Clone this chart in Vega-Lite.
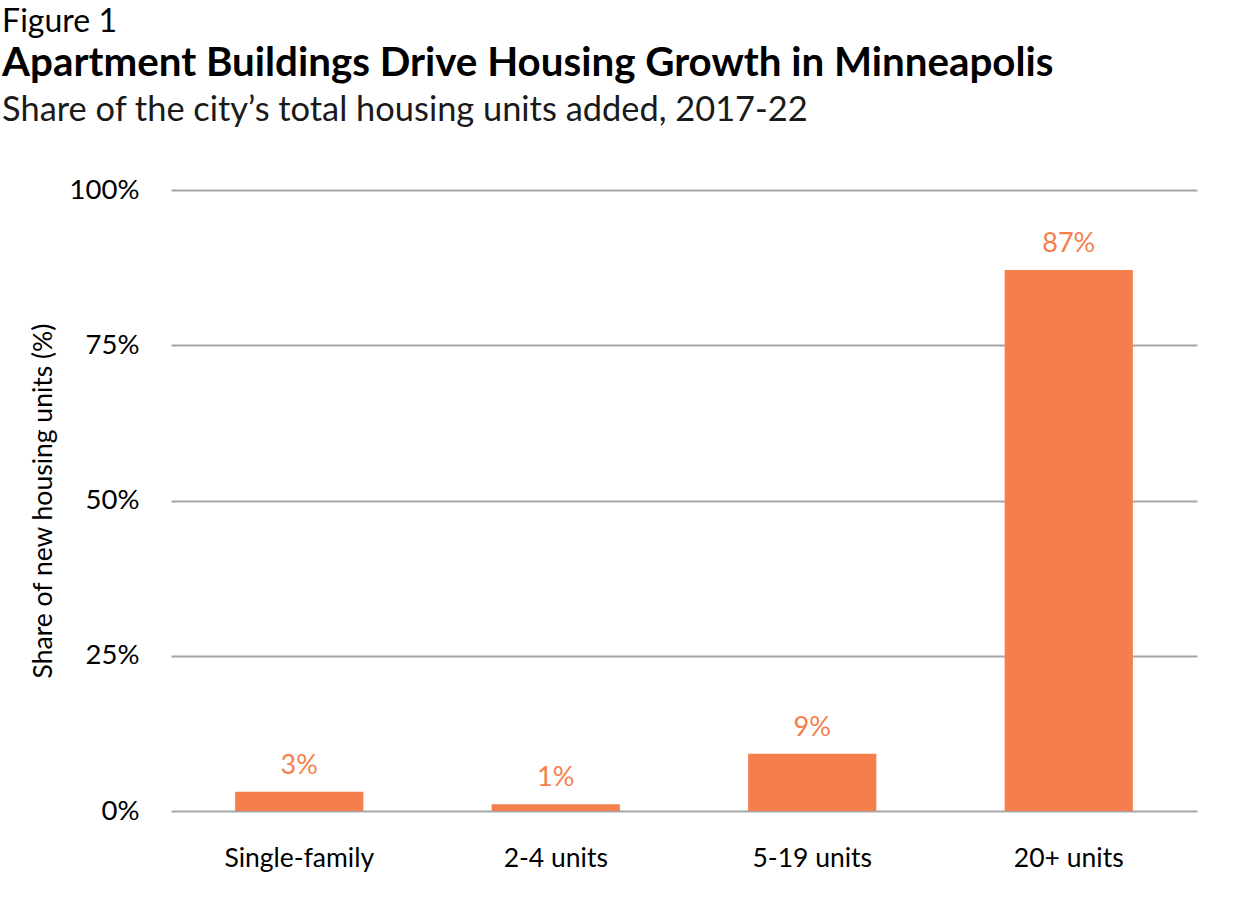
{
  "$schema": "https://vega.github.io/schema/vega-lite/v6.json",
  "padding": {"left": 2, "top": 6, "right": 40, "bottom": 10},
  "background": "white",
  "title": {"text": "Figure 1", "anchor": "start", "frame": "bounds", "fontSize": 32, "font": "Lato", "fontWeight": "normal", "color": "#000000", "offset": 5},
  "vconcat": [
    {
      "width": 1026,
      "height": 621,
      "title": {
        "text": "Apartment Buildings Drive Housing Growth in Minneapolis",
        "subtitle": "Share of the city’s total housing units added, 2017-22",
        "anchor": "start",
        "frame": "bounds",
        "dx": -28,
        "font": "Lato",
        "fontSize": 40.3,
        "fontWeight": "bold",
        "color": "#000000",
        "subtitleFont": "Lato",
        "subtitleFontSize": 34.4,
        "subtitleColor": "#1a1a1a",
        "subtitlePadding": 9,
        "offset": 49
      },
      "data": {
        "values": [
          {"type": "Single-family", "share": 0.031},
          {"type": "2-4 units", "share": 0.011},
          {"type": "5-19 units", "share": 0.092},
          {"type": "20+ units", "share": 0.871}
        ]
      },
      "encoding": {
        "x": {
          "field": "type",
          "type": "nominal",
          "sort": null,
          "scale": {"paddingInner": 0.5, "paddingOuter": 0.25},
          "axis": {"title": null, "labelAngle": 0, "domain": false, "ticks": false, "labelPadding": 34, "labelFontSize": 26.5, "labelFont": "Lato", "labelColor": "#000000"}
        },
        "y": {
          "field": "share",
          "type": "quantitative",
          "scale": {"domain": [0, 1]},
          "axis": {"title": "Share of new housing units (%)", "values": [0, 0.25, 0.5, 0.75, 1], "format": ".0%", "domain": false, "ticks": false, "labelPadding": 32, "labelFontSize": 27.5, "labelFont": "Lato", "labelColor": "#000000", "titleFont": "Lato", "titleFontSize": 26.5, "titleFontWeight": "normal", "titleColor": "#000000", "titlePadding": 12, "grid": true, "gridColor": "#a6a6a6", "gridWidth": 2}
        }
      },
      "layer": [
        {"mark": {"type": "bar", "color": "#F47F4C"}},
        {
          "mark": {"type": "text", "color": "#F47F4C", "baseline": "bottom", "dy": -12, "font": "Lato", "fontSize": 27},
          "encoding": {"text": {"field": "share", "type": "quantitative", "format": ".0%"}}
        }
      ]
    }
  ],
  "config": {"view": {"stroke": null}, "font": "Lato"}
}
